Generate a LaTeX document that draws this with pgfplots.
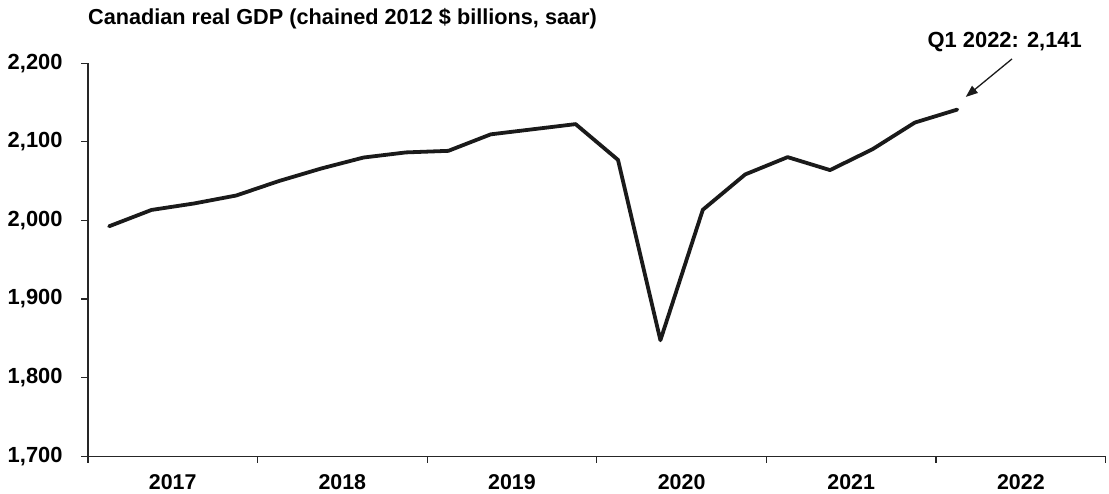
\documentclass[border=0pt]{standalone}
\usepackage{fontspec}
\setmainfont{Liberation Sans}
\usepackage{pgfplots}
\pgfplotsset{compat=1.18}
\usetikzlibrary{arrows.meta}
\definecolor{lineblk}{HTML}{1A1A1A}
\definecolor{axisgray}{HTML}{262626}
\begin{document}
\begin{tikzpicture}[x=1bp,y=1bp]
\path (0,0) rectangle (1109,494);
\begin{axis}[
  at={(88bp,37.3bp)}, anchor=south west,
  scale only axis, width=1019bp, height=393.4bp,
  xmin=0, xmax=24, ymin=1700, ymax=2200,
  axis lines*=left,
  axis line style={axisgray, line width=1.3bp},
  every tick/.style={axisgray, line width=1.3bp},
  tick align=outside,
  major tick length=6.7bp,
  xtick={0,4,8,12,16,20,24}, xticklabels={},
  extra x ticks={2,6,10,14,18,22},
  extra x tick labels={2017,2018,2019,2020,2021,2022},
  extra x tick style={major tick length=0pt, xticklabel style={anchor=north, inner sep=0pt, yshift=-18.3bp, font=\bfseries\fontsize{21.5}{24}\selectfont}},
  ytick={1700,1800,1900,2000,2100,2200},
  yticklabels={{1,700},{1,800},{1,900},{2,000},{2,100},{2,200}},
  yticklabel style={anchor=east, inner sep=0pt, xshift=-18.5bp, font=\bfseries\fontsize{22}{24}\selectfont},
  clip=false,
]
\addplot[lineblk, line width=3.8bp, line join=round, line cap=round] coordinates {
(0.5,1992.5) (1.5,2013.3) (2.5,2021.5) (3.5,2031.7)
(4.5,2050) (5.5,2066) (6.5,2080) (7.5,2086.5)
(8.5,2088.5) (9.5,2109.5) (10.5,2116) (11.5,2122.5)
(12.5,2077) (13.5,1847.5) (14.5,2013.5) (15.5,2058.5)
(16.5,2080.5) (17.5,2064) (18.5,2090.5) (19.5,2124.5)
(20.5,2141)
};
\node[anchor=base west, inner sep=0pt, font=\bfseries\fontsize{21.8}{24}\selectfont] at (axis cs:0,2248.7) {Canadian real GDP (chained 2012 \$ billions, saar)};
\node[anchor=base, inner sep=0pt, font=\bfseries\fontsize{22}{24}\selectfont] at (axis cs:21.62,2219.4) {Q1 2022: 2,141};
\draw[lineblk, line width=1.3bp, -{Triangle[length=12bp,width=9bp]}] (axis cs:21.79,2205.4) -- (axis cs:20.70,2157.1);
\end{axis}
\end{tikzpicture}
\end{document}
